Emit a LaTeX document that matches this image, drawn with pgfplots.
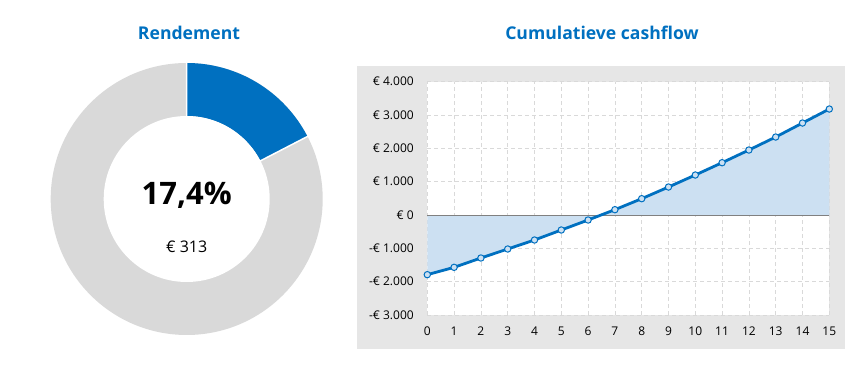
\documentclass[border=0pt]{standalone}
\usepackage{pgfplots}
\pgfplotsset{compat=1.18}
\usepackage{fontspec}
\setmainfont{Open Sans}
\definecolor{xblue}{HTML}{0070C0}
\definecolor{xfill}{HTML}{CCE0F2}
\definecolor{xgray}{HTML}{D9D9D9}
\definecolor{bg}{HTML}{E6E6E6}
\definecolor{zl}{HTML}{808080}
\pgfplotstableread{
x y
0 -1790
1 -1570
2 -1290
3 -1020
4 -750
5 -450
6 -150
7 160
8 490
9 840
10 1200
11 1570
12 1950
13 2340
14 2760
15 3180
}\cashflow
\begin{document}
\begin{tikzpicture}[x=1pt,y=1pt]
\useasboundingbox (0,0) rectangle (865,371);
% donut
\def\pct{17.4}
\pgfmathsetmacro\endang{90-3.6*\pct}
\begin{scope}[shift={(186.7,172)}]
\fill[xgray] (0,0) circle (136);
\fill[xblue] (90:136) arc[start angle=90,end angle=\endang,radius=136] -- (\endang:83) arc[start angle=\endang,end angle=90,radius=83] -- cycle;
\draw[white, line width=1.5] (90:82) -- (90:137) (\endang:82) -- (\endang:137);
\fill[white] (0,0) circle (83);
\node[anchor=base, font=\bfseries\fontsize{31}{31}\selectfont] at (0,-6) {17,4\%};
\node[anchor=base, font=\fontsize{16}{16}\selectfont] at (0,-54) {€ 313};
\end{scope}
\node[anchor=base, text=xblue, font=\bfseries\fontsize{17.6}{17.6}\selectfont] at (189,331) {Rendement};
\node[anchor=base, text=xblue, font=\bfseries\fontsize{17.6}{17.6}\selectfont] at (602,331) {Cumulatieve cashflow};
% chart area background
\fill[bg] (357,22) rectangle (845,305);
\begin{axis}[at={(427.3pt,56pt)}, anchor=south west, scale only axis,
  width=402pt, height=233.3pt,
  xmin=0, xmax=15, ymin=-3000, ymax=4000,
  xtick={0,...,15}, ytick={-3000,-2000,...,4000},
  yticklabels={-€ 3.000,-€ 2.000,-€ 1.000,€ 0,€ 1.000,€ 2.000,€ 3.000,€ 4.000},
  grid=major, grid style={dash pattern=on 4pt off 3pt, xgray, line width=0.8},
  axis line style={draw=none}, major tick length=0pt,
  tick label style={font=\fontsize{12}{12}\selectfont},
  /pgf/number format/assume math mode=true,
  xticklabel style={yshift=-8pt},
  yticklabel style={xshift=-10pt},
  axis background/.style={fill=white},
  clip=false]
\addplot[fill=xfill, draw=none] table {\cashflow} \closedcycle;
\addplot[zl, line width=1] coordinates {(0,0) (15,0)};
\addplot[xblue, line width=2.8, mark=*, mark size=3.2, mark options={fill=xfill, draw=xblue, line width=1}] table {\cashflow};
\end{axis}
\end{tikzpicture}
\end{document}
